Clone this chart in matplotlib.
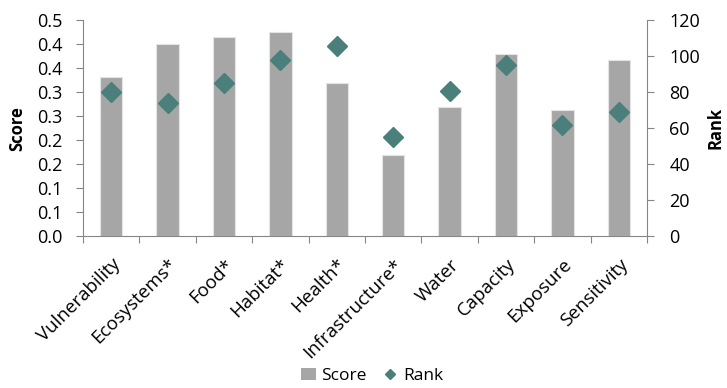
import matplotlib.pyplot as plt
from matplotlib.lines import Line2D
from matplotlib.patches import Patch

categories = ['Vulnerability', 'Ecosystems*', 'Food*', 'Habitat*', 'Health*',
              'Infrastructure*', 'Water', 'Capacity', 'Exposure', 'Sensitivity']
scores = [0.333, 0.401, 0.415, 0.426, 0.320, 0.169, 0.269, 0.381, 0.264, 0.368]
ranks = [80, 74, 85, 98, 106, 55, 81, 95, 62, 69]

score_ticks = [0, 0.05, 0.1, 0.15, 0.2, 0.25, 0.3, 0.35, 0.4, 0.45]
score_labels = ['0.0', '0.1', '0.1', '0.2', '0.2', '0.3', '0.3', '0.4', '0.4', '0.5']
rank_ticks = [0, 20, 40, 60, 80, 100, 120]

plt.rcParams['font.family'] = ['Open Sans', 'DejaVu Sans']
bar_col = '#a6a6a6'
rank_col = '#4a7f7b'
axis_col = '#868686'

fig = plt.figure(figsize=(7.27, 3.88), dpi=100)
ax = fig.add_axes([83/727, 1-236/388, (647-83)/727, (236-20.5)/388])
ax2 = ax.twinx()

x = list(range(len(categories)))
ax.bar(x, scores, width=0.4, color=bar_col, edgecolor='#e4e4e4', linewidth=0.8, zorder=2)
ax2.plot(x, ranks, linestyle='none', marker='D', markersize=10.5, color=rank_col, zorder=3)

ax.set_xlim(-0.5, len(categories) - 0.5)
ax.set_ylim(0, 0.45)
ax2.set_ylim(0, 120)

ax.set_yticks(score_ticks)
ax.set_yticklabels(score_labels)
ax2.set_yticks(rank_ticks)

# category separators on the x axis
ax.set_xticks([i - 0.5 for i in range(len(categories) + 1)])
ax.set_xticklabels([])
ax.set_xticks(x, minor=True)
ax.set_xticklabels(categories, minor=True, rotation=45, ha='right',
                   rotation_mode='anchor', fontsize=13.5)
ax.tick_params(axis='x', which='minor', length=0, pad=14)
ax.tick_params(axis='x', which='major', length=5, color=axis_col, direction='out')

for a in (ax, ax2):
    a.spines['top'].set_visible(False)
    for s in ('left', 'right', 'bottom'):
        a.spines[s].set_color(axis_col)
ax.spines['right'].set_visible(False)
ax2.spines['left'].set_visible(False)
ax2.spines['bottom'].set_visible(False)

ax.tick_params(axis='y', length=5, color=axis_col, labelsize=13, pad=10)
ax2.tick_params(axis='y', length=5, color=axis_col, labelsize=13, pad=11)

ax.set_ylabel('Score', fontsize=12, fontweight='bold')
ax.yaxis.set_label_coords(-0.10, 0.5)
ax2.set_ylabel('Rank', fontsize=12, fontweight='bold', rotation=90)
ax2.yaxis.set_label_coords(1.106, 0.5)

handles = [Patch(facecolor=bar_col, edgecolor='none'),
           Line2D([], [], linestyle='none', marker='D', markersize=5.5, color=rank_col)]
fig.legend(handles, ['Score', 'Rank'], loc='center', bbox_to_anchor=(372/727, 1-376/388),
           ncol=2, frameon=False, fontsize=12.5, handlelength=0.9, handletextpad=0.3,
           columnspacing=0.9)

fig.savefig('out.png', dpi=100)
